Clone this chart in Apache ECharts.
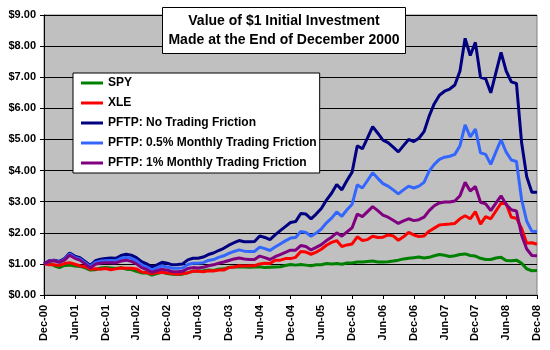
<!DOCTYPE html>
<html>
<head>
<meta charset="utf-8">
<script src="https://cdn.jsdelivr.net/npm/echarts@6/dist/echarts.min.js"></script>
<style>
  html, body { margin: 0; padding: 0; background: #fff; }
  #chart { width: 550px; height: 350px; }
</style>
</head>
<body>
<div id="chart"></div>
<script>
// month-end values, Dec-00 .. Dec-08
var spy = [1.00,1.03,0.94,0.88,0.95,0.96,0.93,0.92,0.87,0.80,0.81,0.87,
  0.88,0.87,0.85,0.88,0.83,0.82,0.76,0.71,0.71,0.64,0.69,0.73,
  0.69,0.67,0.66,0.67,0.72,0.76,0.77,0.78,0.80,0.79,0.83,0.84,
  0.89,0.90,0.91,0.90,0.89,0.90,0.91,0.88,0.89,0.90,0.91,0.95,
  0.98,0.96,0.98,0.96,0.94,0.97,0.97,1.01,1.00,1.01,0.99,1.03,
  1.03,1.06,1.06,1.08,1.09,1.06,1.06,1.07,1.09,1.12,1.16,1.18,
  1.20,1.22,1.19,1.21,1.26,1.30,1.28,1.24,1.26,1.30,1.32,1.27,
  1.25,1.18,1.14,1.14,1.19,1.21,1.11,1.10,1.12,1.02,0.84,0.78,0.79];
var xle = [1.00,0.97,0.97,0.95,1.01,1.04,0.99,0.94,0.91,0.83,0.84,0.83,
  0.85,0.81,0.84,0.87,0.86,0.86,0.84,0.74,0.72,0.68,0.72,0.73,
  0.71,0.69,0.67,0.69,0.71,0.77,0.76,0.75,0.78,0.77,0.80,0.80,
  0.88,0.90,0.94,0.93,0.94,0.94,1.00,1.02,1.01,1.12,1.12,1.17,
  1.17,1.21,1.40,1.38,1.31,1.38,1.47,1.60,1.69,1.75,1.56,1.61,
  1.64,1.87,1.75,1.78,1.89,1.85,1.86,1.93,1.90,1.76,1.87,2.01,
  1.93,1.88,1.90,2.05,2.15,2.25,2.27,2.28,2.30,2.45,2.55,2.45,
  2.68,2.28,2.52,2.45,2.70,2.95,2.93,2.50,2.47,2.14,1.66,1.68,1.63];
var pftpNone = [1.00,1.10,1.12,1.08,1.17,1.35,1.25,1.20,1.08,0.95,1.10,1.15,
  1.17,1.19,1.18,1.27,1.31,1.28,1.20,1.07,1.00,0.90,0.97,1.05,
  1.02,0.97,0.98,1.00,1.13,1.18,1.18,1.22,1.30,1.35,1.43,1.50,
  1.60,1.68,1.75,1.71,1.71,1.72,1.90,1.85,1.78,1.93,2.07,2.20,
  2.33,2.36,2.62,2.60,2.45,2.60,2.78,3.05,3.27,3.55,3.38,3.68,
  3.95,4.80,4.70,5.05,5.41,5.20,4.98,4.90,4.75,4.60,4.80,5.00,
  4.93,5.04,5.25,5.75,6.15,6.42,6.55,6.62,6.75,7.20,8.25,7.70,
  8.12,7.00,6.95,6.50,7.15,7.80,7.20,6.85,6.80,4.90,3.80,3.30,3.30];
var pftpHalf = [1.00,1.09,1.11,1.06,1.15,1.32,1.21,1.16,1.04,0.91,1.05,1.09,
  1.10,1.11,1.10,1.18,1.21,1.18,1.10,0.97,0.90,0.81,0.87,0.94,
  0.90,0.86,0.86,0.87,0.98,1.02,1.02,1.04,1.11,1.14,1.21,1.26,
  1.34,1.40,1.45,1.41,1.40,1.40,1.54,1.49,1.43,1.54,1.64,1.74,
  1.83,1.85,2.04,2.01,1.89,1.99,2.12,2.32,2.47,2.67,2.53,2.74,
  2.92,3.54,3.44,3.68,3.93,3.75,3.58,3.50,3.38,3.25,3.38,3.50,
  3.44,3.50,3.62,3.98,4.20,4.36,4.43,4.46,4.52,4.80,5.47,5.08,
  5.33,4.57,4.52,4.20,4.60,4.99,4.59,4.34,4.29,3.07,2.37,2.05,2.04];
var pftpOne = [1.00,1.09,1.10,1.05,1.12,1.28,1.18,1.12,1.00,0.87,0.99,1.03,
  1.04,1.04,1.03,1.09,1.12,1.08,1.00,0.88,0.82,0.73,0.78,0.83,
  0.80,0.75,0.75,0.76,0.85,0.88,0.87,0.89,0.94,0.97,1.02,1.06,
  1.11,1.16,1.19,1.16,1.14,1.14,1.25,1.20,1.14,1.23,1.30,1.37,
  1.44,1.44,1.59,1.56,1.45,1.53,1.62,1.75,1.86,2.00,1.89,2.03,
  2.16,2.60,2.52,2.68,2.84,2.71,2.57,2.50,2.40,2.30,2.38,2.45,
  2.39,2.42,2.50,2.71,2.87,2.96,2.99,2.99,3.02,3.19,3.62,3.34,
  3.49,2.98,2.93,2.71,2.95,3.19,2.91,2.74,2.70,1.92,1.48,1.27,1.26];

var seriesNames = ['SPY', 'XLE', 'PFTP: No Trading Friction',
  'PFTP: 0.5% Monthly Trading Friction', 'PFTP: 1% Monthly Trading Friction'];
var seriesColors = ['#008000', '#FF0000', '#000080', '#3366FF', '#800080'];
var seriesData = [spy, xle, pftpNone, pftpHalf, pftpOne];

// Dec-00, Jan-01, ... Dec-08
var monthNames = ['Jan','Feb','Mar','Apr','May','Jun','Jul','Aug','Sep','Oct','Nov','Dec'];
var months = [];
for (var i = 0; i < spy.length; i++) {
  var k = 11 + i;
  var yr = (2000 + Math.floor(k / 12)) % 100;
  months.push(monthNames[k % 12] + '-' + (yr < 10 ? '0' : '') + yr);
}

var font = "'Liberation Sans', Arial, sans-serif";

var chart = echarts.init(document.getElementById('chart'), null, { renderer: 'canvas' });
chart.setOption({
  animation: false,
  title: {
    text: 'Value of $1 Initial Investment\nMade at the End of December 2000',
    left: 278,
    top: 7,
    textAlign: 'center',
    backgroundColor: '#fff',
    borderColor: '#000',
    borderWidth: 1,
    padding: [5, 6, 4, 6],
    textStyle: { fontFamily: font, fontSize: 14, fontWeight: 'bold', color: '#000', lineHeight: 19 }
  },
  legend: {
    orient: 'vertical',
    left: 73,
    top: 73,
    backgroundColor: '#fff',
    borderColor: '#000',
    borderWidth: 1,
    padding: [3, 3, 3, 8],
    itemGap: 6,
    itemWidth: 22,
    itemHeight: 3,
    icon: 'rect',
    data: seriesNames,
    textStyle: { fontFamily: font, fontSize: 12, fontWeight: 'bold', color: '#000', lineHeight: 14 }
  },
  grid: {
    left: 44, right: 13, top: 15, bottom: 55,
    show: true,
    backgroundColor: '#C0C0C0',
    borderColor: '#808080',
    borderWidth: 1
  },
  xAxis: {
    type: 'category',
    data: months,
    boundaryGap: false,
    axisLine: { lineStyle: { color: '#000', width: 1 } },
    axisTick: { interval: 5, length: 4, lineStyle: { color: '#000' } },
    axisLabel: {
      interval: 5, rotate: 90, margin: 10,
      fontFamily: font, fontSize: 11, fontWeight: 'bold', color: '#000'
    },
    splitLine: { show: false }
  },
  yAxis: {
    type: 'value',
    min: 0, max: 9, interval: 1,
    axisLine: { show: true, lineStyle: { color: '#000', width: 1 } },
    axisTick: { show: true, length: 4, lineStyle: { color: '#000' } },
    axisLabel: {
      margin: 8,
      formatter: function (v) { return '$' + v.toFixed(2); },
      fontFamily: font, fontSize: 11, fontWeight: 'bold', color: '#000'
    },
    splitLine: { lineStyle: { color: '#000', width: 1 } }
  },
  series: seriesData.map(function (d, i) {
    return {
      name: seriesNames[i],
      type: 'line',
      data: d,
      symbol: 'none',
      color: seriesColors[i],
      lineStyle: { width: 3, color: seriesColors[i] }
    };
  })
});
</script>
</body>
</html>
